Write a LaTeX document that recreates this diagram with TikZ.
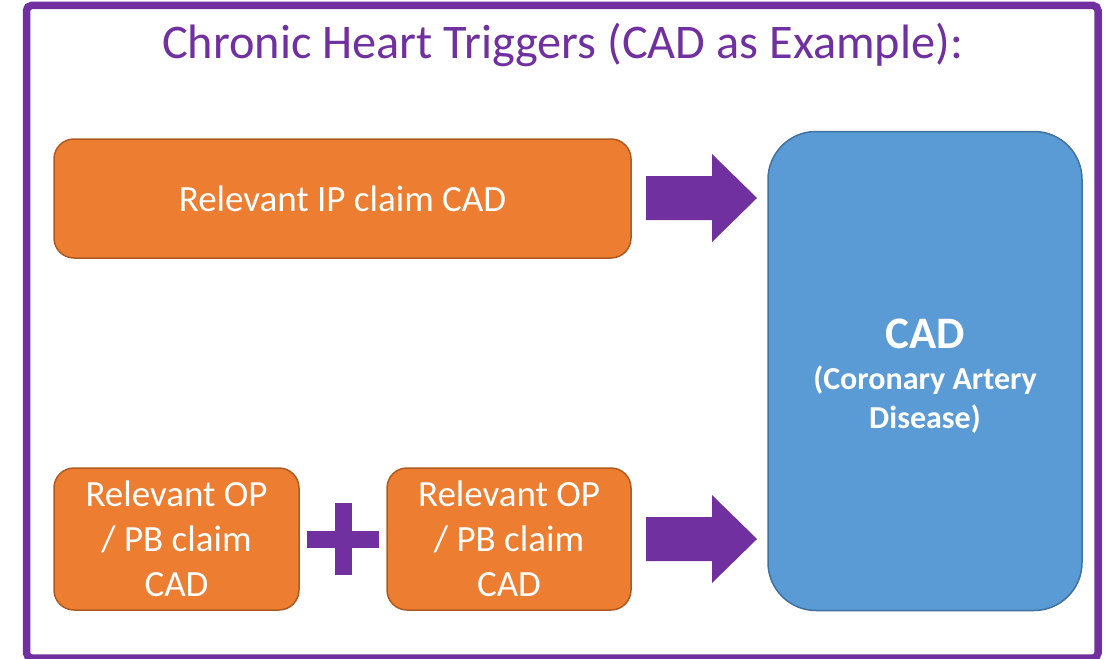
\documentclass[tikz,border=0pt]{standalone}
\usepackage{fontspec}
\setmainfont{Carlito}
\definecolor{frameP}{HTML}{7030A0}
\definecolor{orangeF}{HTML}{ED7D31}
\definecolor{orangeD}{HTML}{AE5A21}
\definecolor{blueF}{HTML}{5B9BD5}
\definecolor{blueD}{HTML}{41719C}
\begin{document}
\begin{tikzpicture}[x=1pt,y=-1pt,
  obox/.style={draw=orangeD, fill=orangeF, line width=1.5pt, rounded corners=20pt,
    text=white, align=center, inner sep=0pt, font=\fontsize{37}{45}\selectfont},
  cadbox/.style={draw=blueD, fill=blueF, line width=1.5pt, rounded corners=48pt},
  parrow/.style={fill=frameP}
]
\useasboundingbox (0,0) rectangle (1107,658);
% frame
\draw[frameP, line width=7.5pt, rounded corners=5pt] (26.5,5.5) rectangle (1098,658);
% title
\node[text=frameP, font=\fontsize{48.3}{56}\selectfont, anchor=base] (title) at (562.5,59) {Chronic Heart Triggers (CAD as Example):};
% boxes
\node[obox, minimum width=577pt, minimum height=119pt] (ip) at (342.5,198.5) {Relevant IP claim CAD};
\node[obox, minimum width=245pt, minimum height=142pt] (op1) at (176.5,539) {Relevant OP\\/ PB claim\\CAD};
\node[obox, minimum width=244pt, minimum height=142pt] (op2) at (509,539) {Relevant OP\\/ PB claim\\CAD};
\node[cadbox, minimum width=314pt, minimum height=479pt] (cad) at (925,371) {};
\node[text=white, font=\bfseries\fontsize{45}{50}\selectfont, anchor=base] (cadt) at (cad.center |- 0,348) {CAD};
\node[text=white, font=\bfseries\fontsize{32}{39}\selectfont, align=center, anchor=base] (cadsub) at (cad.center |- 0,428) {(Coronary Artery\\Disease)};
% plus
\fill[parrow] (334.5,503) rectangle (351.5,575);
\fill[parrow] (307,531) rectangle (379,548);
% block arrows
\fill[parrow] (646,176) -- (712,176) -- (712,154) -- (757,198) -- (712,242) -- (712,220) -- (646,220) -- cycle;
\fill[parrow] (646,517) -- (712,517) -- (712,495) -- (757,539) -- (712,583) -- (712,561) -- (646,561) -- cycle;
\end{tikzpicture}
\end{document}
